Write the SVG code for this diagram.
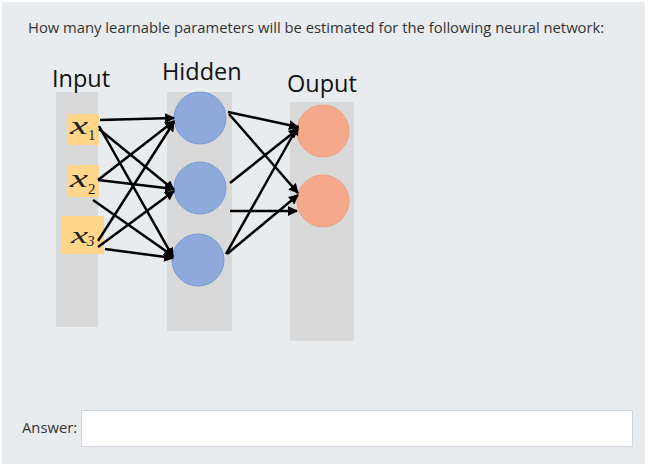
<svg xmlns="http://www.w3.org/2000/svg" width="648" height="472" viewBox="0 0 648 472">
<defs>
<marker id="ah" viewBox="0 0 10 10" refX="9" refY="5" markerWidth="4" markerHeight="4" orient="auto" markerUnits="strokeWidth">
<path d="M0,0 L10,5 L0,10 z" fill="#000"/>
</marker>
</defs>
<style>
.ui{font-family:"Open Sans","Noto Sans","Liberation Sans",sans-serif;fill:#333}
.lbl{font-family:"Open Sans","Liberation Sans",sans-serif;font-size:23.5px;fill:#111}
.col{fill:#d9d9d9}
.inbox{fill:#ffd68a}
.var{font-family:"Liberation Serif","DejaVu Serif",serif;font-style:italic;fill:#222}
.sub{font-family:"Liberation Serif","DejaVu Serif",serif;fill:#222}
.hid{fill:#8eaadc;stroke:#7b99d6;stroke-width:1}
.out{fill:#f5a98a;stroke:#eda184;stroke-width:1}
.edge line{stroke:#000;stroke-width:2.5;marker-end:url(#ah)}
</style>
<rect x="0" y="0" width="648" height="472" fill="#ffffff"/>
<rect x="2" y="2" width="643" height="462" fill="#e9ecef"/>
<text class="ui" x="28" y="33" font-size="14.8">How many learnable parameters will be estimated for the following neural network:</text>

<rect class="col" x="56" y="92" width="42" height="235"/>
<rect class="col" x="167" y="92" width="65" height="239"/>
<rect class="col" x="290" y="102" width="64" height="239"/>

<text class="lbl" x="52" y="87">Input</text>
<text class="lbl" x="162" y="80">Hidden</text>
<text class="lbl" x="287" y="92">Ouput</text>

<g id="x1">
<rect class="inbox" x="67" y="114" width="32" height="31"/>
<text class="var" x="70" y="134" font-size="25" textLength="18" lengthAdjust="spacingAndGlyphs">x</text>
<text class="sub" x="88" y="140" font-size="15">1</text>
</g>
<g id="x2">
<rect class="inbox" x="67" y="165" width="32" height="32"/>
<text class="var" x="70" y="187" font-size="25" textLength="18" lengthAdjust="spacingAndGlyphs">x</text>
<text class="sub" x="88" y="194" font-size="15">2</text>
</g>
<g id="x3">
<rect class="inbox" x="61" y="216" width="43" height="38"/>
<text class="var" x="71" y="243" font-size="23" textLength="17" lengthAdjust="spacingAndGlyphs">x</text>
<text class="var" x="87" y="246" font-size="15">3</text>
</g>

<g id="h1"><circle class="hid" cx="200" cy="118" r="26"/></g>
<g id="h2"><circle class="hid" cx="200" cy="188" r="26"/></g>
<g id="h3"><circle class="hid" cx="198" cy="260" r="26"/></g>
<g id="o1"><circle class="out" cx="323" cy="131" r="26"/></g>
<g id="o2"><circle class="out" cx="323" cy="201" r="26"/></g>

<g class="edge" id="connectors">
<line x1="100" y1="120" x2="174" y2="118"/>
<line x1="99" y1="129" x2="174" y2="190"/>
<line x1="99" y1="126" x2="173" y2="257"/>
<line x1="98" y1="180" x2="174" y2="121"/>
<line x1="98" y1="180" x2="174" y2="189"/>
<line x1="93" y1="200" x2="173" y2="256"/>
<line x1="98" y1="241" x2="174" y2="122"/>
<line x1="98" y1="247" x2="174" y2="191"/>
<line x1="105" y1="249" x2="173" y2="258"/>
<line x1="228" y1="112" x2="298" y2="127"/>
<line x1="229" y1="114" x2="298" y2="193"/>
<line x1="230" y1="183" x2="298" y2="129"/>
<line x1="230" y1="211" x2="297" y2="211"/>
<line x1="226" y1="254" x2="298" y2="126"/>
<line x1="227" y1="254" x2="298" y2="195"/>
</g>

<text class="ui" x="22" y="433" font-size="14.8">Answer:</text>
<rect x="81.5" y="410.5" width="551" height="36" fill="#ffffff" stroke="#ced4da" stroke-width="1"/>
</svg>
